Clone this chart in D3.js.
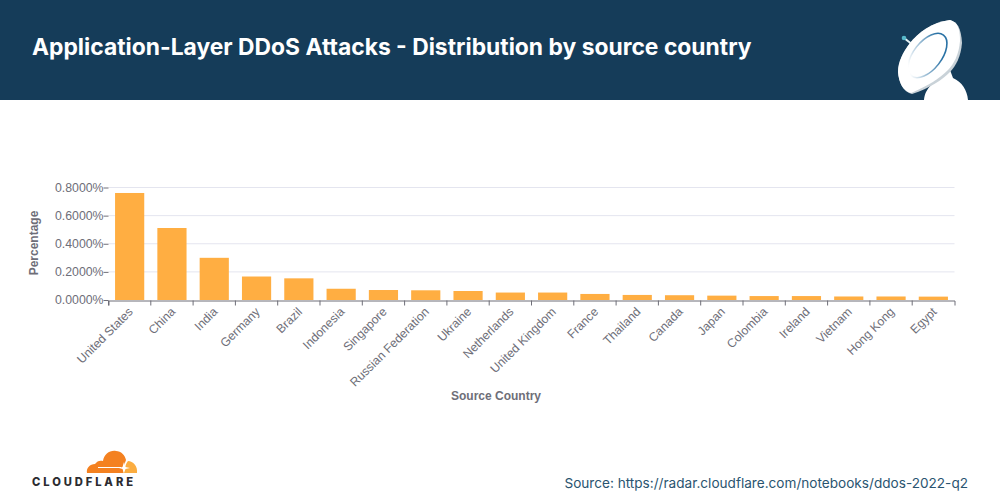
<!DOCTYPE html>
<html>
<head>
<meta charset="utf-8">
<script src="https://cdn.jsdelivr.net/npm/d3@7"></script>
<style>
  html, body { margin: 0; padding: 0; background: #fff; }
  text { font-family: Inter, sans-serif; }
</style>
</head>
<body>
<svg id="chart" width="1000" height="500"></svg>
<script>
const countries = ['United States', 'China', 'India', 'Germany', 'Brazil', 'Indonesia', 'Singapore',
  'Russian Federation', 'Ukraine', 'Netherlands', 'United Kingdom', 'France', 'Thailand', 'Canada',
  'Japan', 'Colombia', 'Ireland', 'Vietnam', 'Hong Kong', 'Egypt'];
const percentages = [0.761, 0.512, 0.30, 0.167, 0.154, 0.08, 0.071, 0.069, 0.064, 0.053,
  0.053, 0.043, 0.036, 0.034, 0.031, 0.028, 0.028, 0.025, 0.025, 0.024];
const yTicks = [0, 0.2, 0.4, 0.6, 0.8];

const svg = d3.select('#chart');
const textGray = '#6e6e78';
const labelFont = 'Liberation Sans, sans-serif';

// Header band
svg.append('rect').attr('width', 1000).attr('height', 100).attr('fill', '#153c59');
svg.append('text')
  .attr('x', 32).attr('y', 55)
  .attr('font-size', 22.85).attr('font-weight', 700).attr('fill', '#fff')
  .text('Application-Layer DDoS Attacks - Distribution by source country');

// Satellite dish
const dish = svg.append('g');
const grad = svg.append('defs').append('linearGradient')
  .attr('id', 'ring').attr('gradientUnits', 'userSpaceOnUse')
  .attr('x1', 942).attr('y1', 38).attr('x2', 914).attr('y2', 72);
grad.append('stop').attr('offset', '0.2').attr('stop-color', '#2a72a5');
grad.append('stop').attr('offset', '1').attr('stop-color', '#ffffff');
dish.append('path').attr('d', 'M924 100 C925 90 930 84 948 72 L950 70 L953 78 C962 82 967 90 968 100 Z').attr('fill', '#fff');
dish.append('line').attr('x1', 904).attr('y1', 38).attr('x2', 913).attr('y2', 45)
  .attr('stroke', '#e6f3f5').attr('stroke-width', 2);
dish.append('circle').attr('cx', 904).attr('cy', 38).attr('r', 2.3).attr('fill', '#57b8c9');
dish.append('path')
  .attr('d', 'M950 20 C957 22 961 27 962 43 C961 56 956 66 950 72 C942 80 930 88 912 94 C904 92 899 84 898 72 C898 62 903 52 910 43 C918 33 932 22 950 20 Z')
  .attr('fill', '#c9d2d8');
dish.append('path')
  .attr('d', 'M950 20 C957 22 960 27 960 41 C959 54 954 64 948 70 C940 78 928 86 911 93 C903 91 899 83 898 72 C898 62 903 52 910 43 C918 33 932 22 950 20 Z')
  .attr('fill', '#fff');
dish.append('ellipse').attr('cx', 927.5).attr('cy', 55.5).attr('rx', 14).attr('ry', 26)
  .attr('transform', 'rotate(38 927.5 55.5)').attr('fill', 'none')
  .attr('stroke', 'url(#ring)').attr('stroke-width', 1.6);

// Chart scales
const x = d3.scaleBand().domain(countries).range([108.5, 954.5]).paddingInner(0.31).paddingOuter(0.155);
const y = d3.scaleLinear().domain([0, 0.8]).range([300, 187.5]);

svg.append('g').selectAll('line')
  .data(yTicks.slice(1))
  .join('line')
  .attr('x1', 108.5).attr('x2', 954.5)
  .attr('y1', d => y(d)).attr('y2', d => y(d))
  .attr('stroke', '#e4e5ef');

svg.append('g').selectAll('rect')
  .data(countries)
  .join('rect')
  .attr('x', d => x(d))
  .attr('y', (d, i) => y(percentages[i]))
  .attr('width', x.bandwidth())
  .attr('height', (d, i) => y(0) - y(percentages[i]))
  .attr('fill', '#ffae42');

// Axes
const yAxis = d3.axisLeft(y).tickValues(yTicks).tickFormat(d => d3.format('.4f')(d) + '%').tickSize(5).tickPadding(0);
const yG = svg.append('g').attr('transform', 'translate(108.5,0)').call(yAxis);
yG.select('.domain').remove();
yG.selectAll('.tick line').attr('stroke', '#6e6e78');
yG.selectAll('.tick text').attr('font-size', 12.3).attr('fill', textGray).style('font-family', labelFont);

const xG = svg.append('g').attr('transform', 'translate(0,300.5)')
  .call(d3.axisBottom(x).tickSize(5).tickSizeOuter(5));
xG.select('.domain').attr('stroke', '#6e6e78');
xG.selectAll('.tick line')
  .attr('x1', -x.step() / 2).attr('x2', -x.step() / 2)
  .attr('stroke', '#6e6e78');
xG.selectAll('.tick text')
  .attr('font-size', 12.2).attr('fill', textGray).style('font-family', labelFont)
  .attr('text-anchor', 'end')
  .attr('x', 0).attr('y', 0).attr('dy', '0.35em')
  .attr('transform', 'translate(1,9) rotate(-45)');

svg.append('text')
  .attr('transform', 'translate(38,243) rotate(-90)')
  .attr('text-anchor', 'middle').attr('font-size', 12).attr('font-weight', 700)
  .attr('fill', textGray).style('font-family', labelFont)
  .text('Percentage');
svg.append('text')
  .attr('x', 496).attr('y', 400)
  .attr('text-anchor', 'middle').attr('font-size', 12).attr('font-weight', 700)
  .attr('fill', textGray).style('font-family', labelFont)
  .text('Source Country');

// Footer
svg.append('text')
  .attr('x', 968).attr('y', 488)
  .attr('text-anchor', 'end').attr('font-size', 13.6).attr('fill', '#2a5470')
  .text('Source: https://radar.cloudflare.com/notebooks/ddos-2022-q2');

// Cloudflare logo
const logo = svg.append('g');
logo.append('path')
  .attr('d', 'M87 473 C86 468 90 464 95 464 C97 461 100 460 103 461 C104 454 110 450 116 451 C121 451 125 455 126 460 C124 464 124 469 123 473 Z')
  .attr('fill', '#f48120');
logo.append('path')
  .attr('d', 'M123 473 C125 468 126 463 128 461 C133 461 138 466 137 473 Z')
  .attr('fill', '#fbad41');
logo.append('path')
  .attr('d', 'M98 467 L121 467 L121 468 L98 468 Z M124 462 L125.5 467 L130 468 L125.5 469 L124 473 L122.5 469 L119 468 L122.5 467 Z')
  .attr('fill', '#fff');
logo.append('text')
  .attr('x', 32).attr('y', 485.5)
  .attr('font-size', 11.2).attr('font-weight', 800).attr('letter-spacing', 2.9).attr('fill', '#2c2c30')
  .style('font-family', 'Inter, sans-serif')
  .text('CLOUDFLARE');
</script>
</body>
</html>
